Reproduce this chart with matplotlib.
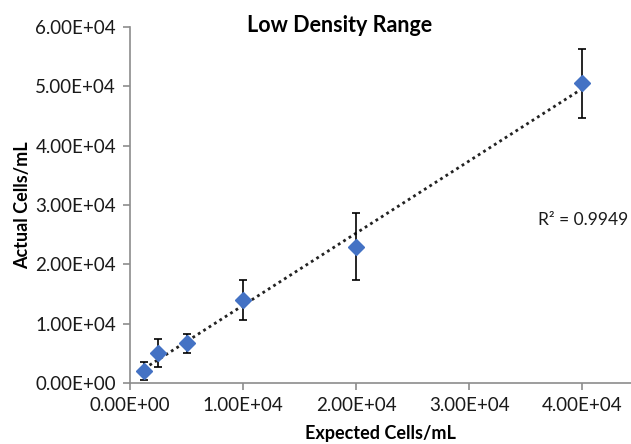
import numpy as np
import matplotlib
matplotlib.use("Agg")
import matplotlib.pyplot as plt
from matplotlib.ticker import FuncFormatter

expected = [1250, 2500, 5000, 10000, 20000, 40000]
actual = [2050, 5080, 6700, 14000, 23000, 50500]
errors = [1550, 2330, 1640, 3400, 5700, 5800]
x_ticks = [0, 10000, 20000, 30000, 40000]
y_ticks = [0, 10000, 20000, 30000, 40000, 50000, 60000]

plt.rcParams['font.family'] = ['Lato', 'DejaVu Sans']

W, H = 631, 444
fig = plt.figure(figsize=(W / 100, H / 100), dpi=100)
ax = fig.add_axes([130 / W, (H - 383) / H, (W - 130) / W, (383 - 27) / H])

# trendline
coef = np.polyfit(expected, actual, 1)
xs = np.array([min(expected), max(expected)])
ax.plot(xs, np.polyval(coef, xs), linestyle=(0, (1, 1.3)), color='#222222', lw=2.0, zorder=2)

ax.errorbar(expected, actual, yerr=errors, fmt='D', color='#4472C4', markersize=8,
            ecolor='black', elinewidth=1.2, capsize=3, capthick=1.2, zorder=3)

ax.set_xlim(0, 44300)
ax.set_ylim(0, 60000)
ax.set_xticks(x_ticks)
ax.set_yticks(y_ticks)
fmt = FuncFormatter(lambda v, p: f"{v:.2E}")
ax.xaxis.set_major_formatter(fmt)
ax.yaxis.set_major_formatter(fmt)

for s in ['top', 'right']:
    ax.spines[s].set_visible(False)
for s in ['left', 'bottom']:
    ax.spines[s].set_color('#8c8c8c')
    ax.spines[s].set_linewidth(1.2)
ax.tick_params(axis='both', direction='out', length=5, color='#8c8c8c', width=1.2,
               labelsize=13.5, labelcolor='#1a1a1a', pad=5)

ax.set_xlabel('Expected Cells/mL', fontsize=13, fontweight='bold')
ax.set_ylabel('Actual Cells/mL', fontsize=13, fontweight='bold')
ax.xaxis.set_label_coords(0.5, (383 - 433) / 356)
ax.yaxis.set_label_coords((23 - 130) / 501, 0.5)
ax.xaxis.label.set_va('center')
ax.yaxis.label.set_va('center')

fig.text(340 / W, 1 - 26 / H, 'Low Density Range', fontsize=15.5, fontweight='bold',
         ha='center', va='center')
fig.text(538 / W, 1 - 220 / H, 'R² = 0.9949', fontsize=12.5, ha='left', va='center',
         color='#1a1a1a')

fig.savefig('out.png', dpi=100)
